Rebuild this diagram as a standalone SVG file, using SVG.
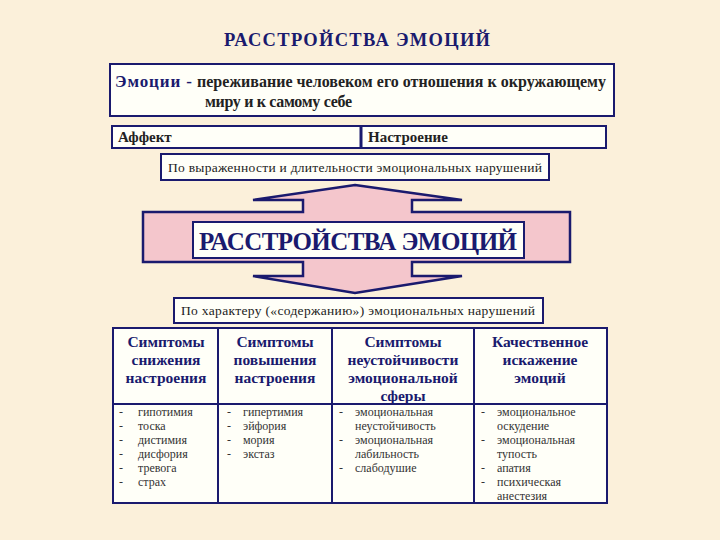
<svg xmlns="http://www.w3.org/2000/svg" width="720" height="540" viewBox="0 0 720 540" font-family="'Liberation Serif','DejaVu Serif','Times New Roman',serif">
<style>
text{font-family:"Liberation Serif","DejaVu Serif","Times New Roman",serif}
.box{fill:#fffff8;stroke:#1a1a6e;stroke-width:2}
.h{font-weight:bold;font-size:15.5px;fill:#1a1a6e;text-anchor:middle}
.i{font-size:12px;fill:#333}
</style>
<rect width="720" height="540" fill="#fbf0da"/>
<text x="357" y="46" text-anchor="middle" font-size="18.5" font-weight="bold" fill="#1a1a6e" textLength="266">РАССТРОЙСТВА ЭМОЦИЙ</text>
<g id="definition">
<rect class="box" x="110" y="64" width="504" height="52" stroke-width="1.5"/>
<text x="115" y="87" font-size="17" font-weight="bold" fill="#1a1a6e" textLength="77">Эмоции -</text>
<text x="197" y="87" font-size="16" font-weight="bold" fill="#222" textLength="409">переживание человеком его отношения к окружающему</text>
<text x="205" y="107" font-size="16" font-weight="bold" fill="#222" textLength="147">миру и к самому себе</text>
</g>
<g id="types">
<rect class="box" x="112" y="126" width="494" height="22" stroke-width="3"/>
<line x1="361" y1="126" x2="361" y2="148" stroke="#1a1a6e" stroke-width="3"/>
<text x="118" y="142" font-size="15" font-weight="bold" fill="#222">Аффект</text>
<text x="368" y="142" font-size="15" font-weight="bold" fill="#222">Настроение</text>
</g>
<g id="crit1">
<rect class="box" x="161" y="154" width="388" height="26"/>
<text x="355" y="172" font-size="13.5" text-anchor="middle" fill="#222" textLength="374">По выраженности и длительности эмоциональных нарушений</text>
</g>
<g id="connectors">
<path d="M355,185 L462,200 L412,200 L412,212 L570,212 L570,262 L412,262 L412,276 L462,276 L355,293 L253,276 L303,276 L303,262 L143,262 L143,212 L303,212 L303,200 L253,200 Z" fill="#f4c6cc" stroke="#1a1a6e" stroke-width="2.5"/>
</g>
<g id="center">
<rect class="box" x="193" y="222" width="331" height="36" fill="#fff"/>
<text x="358" y="250" font-size="25" font-weight="bold" text-anchor="middle" fill="#1a1a6e" textLength="318">РАССТРОЙСТВА ЭМОЦИЙ</text>
</g>
<g id="crit2">
<rect class="box" x="174" y="298" width="369" height="25"/>
<text x="358" y="315" font-size="13.5" text-anchor="middle" fill="#222" textLength="354">По характеру («содержанию») эмоциональных нарушений</text>
</g>
<g id="table">
<rect class="box" x="113" y="328" width="494" height="175"/>
<line x1="113" y1="404" x2="607" y2="404" stroke="#1a1a6e" stroke-width="2"/>
<line x1="218" y1="328" x2="218" y2="503" stroke="#1a1a6e" stroke-width="2"/>
<line x1="332" y1="328" x2="332" y2="503" stroke="#1a1a6e" stroke-width="2"/>
<line x1="474" y1="328" x2="474" y2="503" stroke="#1a1a6e" stroke-width="2"/>
<text class="h" x="166" y="347">Симптомы<tspan x="166" dy="18">снижения</tspan><tspan x="166" dy="18">настроения</tspan></text>
<text class="h" x="275" y="347">Симптомы<tspan x="275" dy="18">повышения</tspan><tspan x="275" dy="18">настроения</tspan></text>
<text class="h" x="403" y="347">Симптомы<tspan x="403" dy="18">неустойчивости</tspan><tspan x="403" dy="18">эмоциональной</tspan><tspan x="403" dy="18">сферы</tspan></text>
<text class="h" x="540" y="347">Качественное<tspan x="540" dy="18">искажение</tspan><tspan x="540" dy="18">эмоций</tspan></text>
<g class="i">
<text x="119" y="416">-</text><text x="138" y="416">гипотимия</text>
<text x="119" y="430">-</text><text x="138" y="430">тоска</text>
<text x="119" y="444">-</text><text x="138" y="444">дистимия</text>
<text x="119" y="458">-</text><text x="138" y="458">дисфория</text>
<text x="119" y="472">-</text><text x="138" y="472">тревога</text>
<text x="119" y="486">-</text><text x="138" y="486">страх</text>
<text x="227" y="416">-</text><text x="243" y="416">гипертимия</text>
<text x="227" y="430">-</text><text x="243" y="430">эйфория</text>
<text x="227" y="444">-</text><text x="243" y="444">мория</text>
<text x="227" y="458">-</text><text x="243" y="458">экстаз</text>
<text x="339" y="416">-</text><text x="355" y="416">эмоциональная</text>
<text x="355" y="430">неустойчивость</text>
<text x="339" y="444">-</text><text x="355" y="444">эмоциональная</text>
<text x="355" y="458">лабильность</text>
<text x="339" y="472">-</text><text x="355" y="472">слабодушие</text>
<text x="481" y="416">-</text><text x="497" y="416">эмоциональное</text>
<text x="497" y="430">оскудение</text>
<text x="481" y="444">-</text><text x="497" y="444">эмоциональная</text>
<text x="497" y="458">тупость</text>
<text x="481" y="472">-</text><text x="497" y="472">апатия</text>
<text x="481" y="486">-</text><text x="497" y="486">психическая</text>
<text x="497" y="500">анестезия</text>
</g>
</g>
</svg>
